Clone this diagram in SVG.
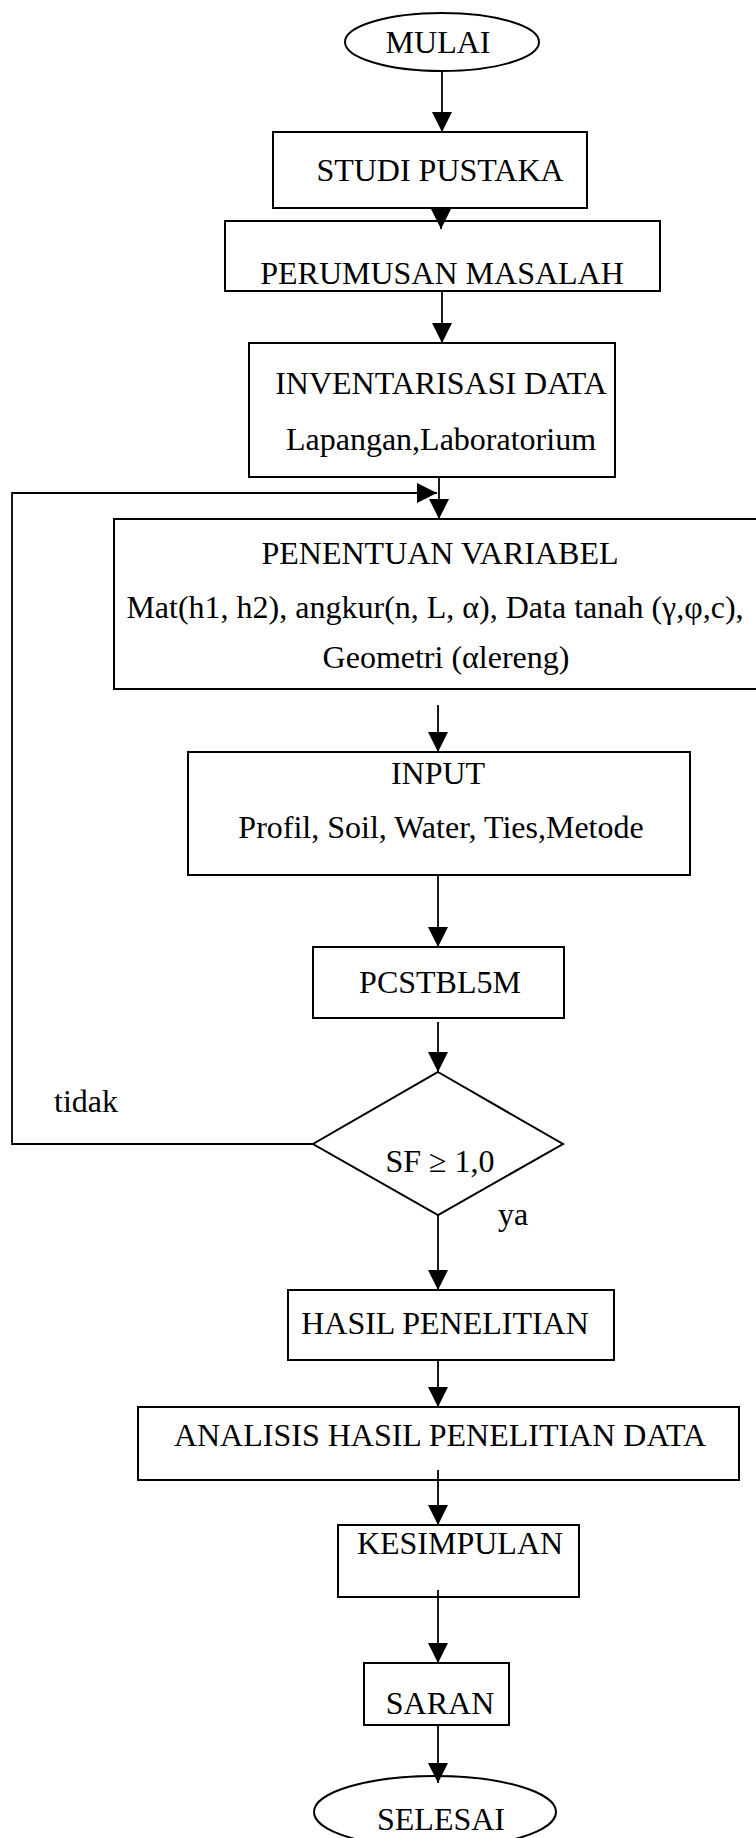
<svg xmlns="http://www.w3.org/2000/svg" width="756" height="1838" viewBox="0 0 756 1838">
<style>
.box{fill:#fff;stroke:#000;stroke-width:2}
.t{font-family:"Liberation Serif","Times New Roman",serif;font-size:32px;fill:#000;text-anchor:middle}
.l{font-family:"Liberation Serif","Times New Roman",serif;font-size:32px;fill:#000}
.c{fill:none;stroke:#000;stroke-width:1.8}
</style>
<defs>
<marker id="ah" markerUnits="userSpaceOnUse" markerWidth="20" markerHeight="20" refX="20" refY="10" orient="auto">
<path d="M0,0 L20,10 L0,20 z" fill="#000"/>
</marker>
</defs>
<rect width="756" height="1838" fill="#fff"/>
<g id="mulai"><ellipse class="box" cx="442" cy="42" rx="97" ry="29"/><text class="t" x="438" y="53">MULAI</text></g>
<g id="studi"><rect class="box" x="273" y="132" width="314" height="76"/><text class="t" x="440" y="181">STUDI PUSTAKA</text></g>
<g id="perumusan"><rect class="box" x="225" y="221" width="435" height="70"/><text class="t" x="442" y="284">PERUMUSAN MASALAH</text></g>
<g id="inventarisasi"><rect class="box" x="249" y="343" width="366" height="134"/><text class="t" x="441" y="394">INVENTARISASI DATA</text><text class="t" x="441" y="450">Lapangan,Laboratorium</text></g>
<g id="penentuan"><rect class="box" x="114" y="519" width="650" height="170"/><text class="t" x="440" y="564">PENENTUAN VARIABEL</text><text class="t" x="435" y="618">Mat(h1, h2), angkur(n, L, α), Data tanah (γ,φ,c),</text><text class="t" x="446" y="668">Geometri (αlereng)</text></g>
<g id="input"><rect class="box" x="188" y="752" width="502" height="123"/><text class="t" x="438" y="784">INPUT</text><text class="t" x="441" y="838">Profil, Soil, Water, Ties,Metode</text></g>
<g id="pcstbl"><rect class="box" x="313" y="947" width="251" height="71"/><text class="t" x="440" y="993">PCSTBL5M</text></g>
<g id="sf"><polygon class="box" points="438,1072 563,1144 438,1215 313,1144"/><text class="t" x="440" y="1172">SF ≥ 1,0</text></g>
<g id="hasil"><rect class="box" x="288" y="1290" width="326" height="70"/><text class="t" x="445" y="1334">HASIL PENELITIAN</text></g>
<g id="analisis"><rect class="box" x="138" y="1407" width="601" height="73"/><text class="t" x="440" y="1446">ANALISIS HASIL PENELITIAN DATA</text></g>
<g id="kesimpulan"><rect class="box" x="338" y="1525" width="241" height="72"/><text class="t" x="460" y="1554">KESIMPULAN</text></g>
<g id="saran"><rect class="box" x="364" y="1663" width="145" height="62"/><text class="t" x="440" y="1714">SARAN</text></g>
<g id="selesai"><ellipse class="box" cx="435" cy="1812" rx="121" ry="36"/><text class="t" x="441" y="1830">SELESAI</text></g>
<g id="connectors">
<line class="c" x1="442" y1="71" x2="442" y2="132" marker-end="url(#ah)"/>
<line class="c" x1="441" y1="208" x2="441" y2="229" marker-end="url(#ah)"/>
<line class="c" x1="442" y1="291" x2="442" y2="343" marker-end="url(#ah)"/>
<line class="c" x1="439" y1="477" x2="439" y2="519" marker-end="url(#ah)"/>
<polyline class="c" points="313,1144 12,1144 12,493 437,493" marker-end="url(#ah)"/>
<line class="c" x1="438" y1="705" x2="438" y2="752" marker-end="url(#ah)"/>
<line class="c" x1="438" y1="875" x2="438" y2="947" marker-end="url(#ah)"/>
<line class="c" x1="438" y1="1022" x2="438" y2="1072" marker-end="url(#ah)"/>
<line class="c" x1="438" y1="1215" x2="438" y2="1290" marker-end="url(#ah)"/>
<line class="c" x1="438" y1="1360" x2="438" y2="1407" marker-end="url(#ah)"/>
<line class="c" x1="438" y1="1470" x2="438" y2="1525" marker-end="url(#ah)"/>
<line class="c" x1="438" y1="1590" x2="438" y2="1663" marker-end="url(#ah)"/>
<line class="c" x1="438" y1="1725" x2="438" y2="1783" marker-end="url(#ah)"/>
<text class="l" x="54" y="1112">tidak</text>
<text class="l" x="498" y="1225">ya</text>
</g>
</svg>
